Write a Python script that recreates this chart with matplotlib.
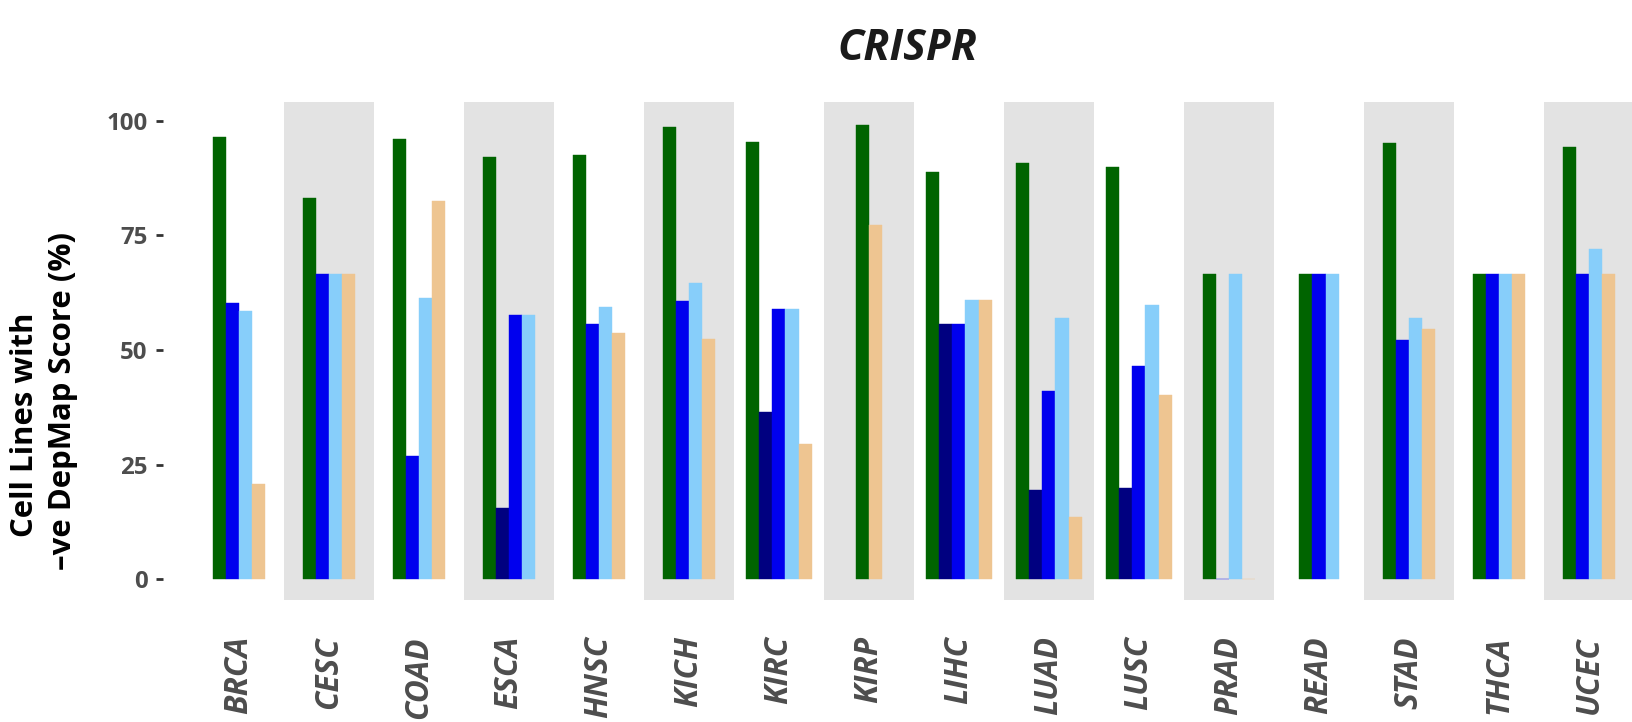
import matplotlib
matplotlib.use("Agg")
import matplotlib.pyplot as plt
from matplotlib import font_manager as fm

cancers = ['BRCA', 'CESC', 'COAD', 'ESCA', 'HNSC', 'KICH', 'KIRC', 'KIRP',
           'LIHC', 'LUAD', 'LUSC', 'PRAD', 'READ', 'STAD', 'THCA', 'UCEC']

# None = no cell lines for that group in this cancer type
green_vals = [96.5, 83.2, 96.1, 92.2, 92.6, 98.7, 95.4, 99.1,
              88.9, 90.8, 90.0, 66.7, 66.7, 95.2, 66.7, 94.3]
navy_vals = [None, None, None, 15.5, None, None, 36.4, None,
             55.6, 19.4, 20.0, None, None, None, None, None]
blue_vals = [60.3, 66.7, 27.0, 57.7, 55.6, 60.8, 59.0, None,
             55.6, 41.0, 46.6, 0.0, 66.7, 52.3, 66.7, 66.7]
skyblue_vals = [58.6, 66.7, 61.4, 57.7, 59.3, 64.7, 59.0, None,
                61.0, 56.9, 59.9, 66.7, 66.7, 57.1, 66.7, 72.1]
tan_vals = [20.7, 66.7, 82.6, None, 53.8, 52.5, 29.6, 77.3,
            61.0, 13.7, 40.1, 0.0, None, 54.7, 66.7, 66.7]

series = [green_vals, navy_vals, blue_vals, skyblue_vals, tan_vals]
colors = ['#006400', '#000080', '#0000EE', '#87CEFA', '#EEC591']


def font_file(name, size):
    # pick the static Open Sans file so the normal width gets used
    for f in fm.fontManager.ttflist:
        if f.fname.endswith(name):
            return fm.FontProperties(fname=f.fname, size=size)
    style = 'italic' if 'Italic' in name else 'normal'
    return fm.FontProperties(family='DejaVu Sans', weight='bold', style=style, size=size)


def fit_size(txt, length_px, renderer):
    # scale the font so the text run is length_px long
    bb = txt.get_window_extent(renderer)
    cur = bb.height if txt.get_rotation() == 90 else bb.width
    return txt.get_fontsize() * length_px / cur


W, H = 1632, 722
fig = plt.figure(figsize=(W / 100, H / 100), dpi=100)

x0, x1 = -0.844, 15.478
ax = fig.add_axes([163 / W, 1 - 600 / H, 1 - 163 / W, (600 - 102) / H])
ax.set_xlim(x0, x1)
ax.set_ylim(-4.5, 104.1)

# shade every second cancer type
for i in range(len(cancers)):
    if i % 2 == 1:
        ax.axvspan(i - 0.5, i + 0.5, color='#E3E3E3', lw=0, zorder=0)

# dodge only the bars that exist in each group, keep bar width fixed
width = 0.145
for i in range(len(cancers)):
    present = [(s[i], c) for s, c in zip(series, colors) if s[i] is not None]
    k = len(present)
    for j, (v, c) in enumerate(present):
        xpos = i + (j - (k - 1) / 2) * width
        ax.bar(xpos, v, width, color=c, edgecolor=c, linewidth=0.3, zorder=2)

for sp in ax.spines.values():
    sp.set_visible(False)

ax.set_yticks([0, 25, 50, 75, 100])
ax.tick_params(axis='y', direction='out', length=5, width=2, color='#333333',
               pad=6, labelcolor='#4D4D4D')
for lab in ax.get_yticklabels():
    lab.set_fontproperties(font_file('OpenSans-Bold.ttf', 16))

ax.set_xticks(range(len(cancers)))
ax.set_xticklabels(cancers, rotation=90, color='#4D4D4D', va='top')
for lab in ax.get_xticklabels():
    lab.set_fontproperties(font_file('OpenSans-BoldItalic.ttf', 20))
ax.tick_params(axis='x', length=0, pad=26)

title = fig.text(907 / W, 1 - 49 / H, 'CRISPR', ha='center', va='center',
                 fontproperties=font_file('OpenSans-BoldItalic.ttf', 29),
                 color='#1A1A1A')

ylab1 = fig.text(25 / W, 1 - 425 / H, 'Cell Lines with', rotation=90,
                 ha='center', va='center', color='black',
                 fontproperties=font_file('OpenSans-Bold.ttf', 20))
ylab2 = fig.text(63 / W, 1 - 401 / H, '\u2013ve DepMap Score (%)', rotation=90,
                 ha='center', va='center', color='black',
                 fontproperties=font_file('OpenSans-Bold.ttf', 20))

fig.canvas.draw()
renderer = fig.canvas.get_renderer()
title.set_fontsize(fit_size(title, 140, renderer))
ylab_size = (fit_size(ylab1, 223, renderer) + fit_size(ylab2, 341, renderer)) / 2
ylab1.set_fontsize(ylab_size)
ylab2.set_fontsize(ylab_size)
xlab_size = fit_size(ax.get_xticklabels()[0], 78, renderer)
for lab in ax.get_xticklabels():
    lab.set_fontsize(xlab_size)
ytick_size = fit_size(ax.get_yticklabels()[-1], 41, renderer)
for lab in ax.get_yticklabels():
    lab.set_fontsize(ytick_size)

fig.savefig('out.png', dpi=100)
